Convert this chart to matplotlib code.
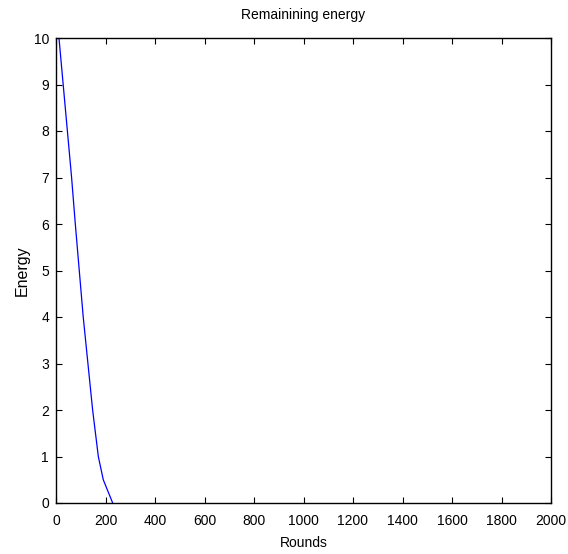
import matplotlib
matplotlib.use("Agg")
import matplotlib.pyplot as plt

rounds = [12, 29, 46, 63, 78, 94, 110, 129, 148, 171, 191, 229]
energy = [10, 9, 8, 7, 6, 5, 4, 3, 2, 1, 0.5, 0]
xticks = [0, 200, 400, 600, 800, 1000, 1200, 1400, 1600, 1800, 2000]
yticks = [0, 1, 2, 3, 4, 5, 6, 7, 8, 9, 10]

plt.rcParams['font.family'] = ['Liberation Sans', 'DejaVu Sans']
fig = plt.figure(figsize=(5.68, 5.54), dpi=100)
ax = fig.add_axes([56/568, 51/554, 495/568, 465/554])
ax.plot(rounds, energy, color=(0, 0, 1), linewidth=0.9)
ax.set_xlim(0, 2000)
ax.set_ylim(0, 10)
ax.set_xticks(xticks)
ax.set_yticks(yticks)
ax.tick_params(axis='x', direction='in', top=True, length=4, width=0.8,
               labelsize=10, pad=8)
ax.tick_params(axis='y', direction='in', right=True, length=4, width=0.8,
               labelsize=10, pad=5)
for s in ax.spines.values():
    s.set_linewidth(1.0)
ax.set_title('Remainining energy', fontsize=10, pad=14)
ax.set_xlabel('Rounds', fontsize=10, labelpad=6)
ax.set_ylabel('Energy', fontsize=11.5, labelpad=3)
fig.savefig('out.png', dpi=100)
